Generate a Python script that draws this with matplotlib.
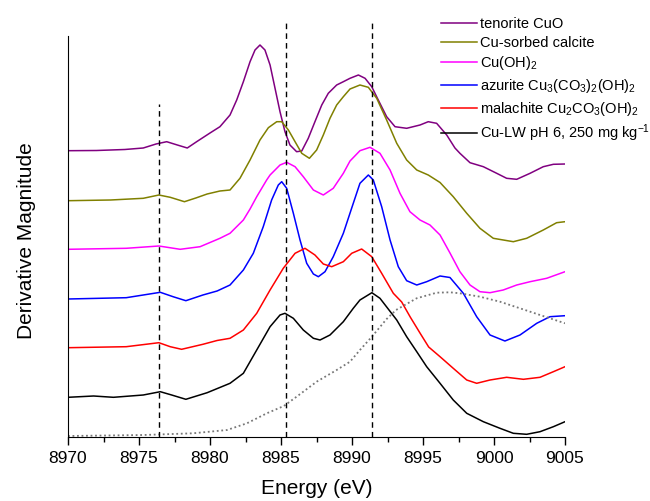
import numpy as np
import matplotlib
matplotlib.use("Agg")
import matplotlib.pyplot as plt
from matplotlib.ticker import MultipleLocator

plt.rcParams["font.family"] = ["Liberation Sans", "DejaVu Sans"]
plt.rcParams["mathtext.default"] = "regular"

# Derivative XANES spectra (arbitrary units, stacked offsets)
e_tenorite = [8970, 8972, 8974, 8975.3, 8976.2, 8976.95, 8977.7, 8978.4, 8979.06, 8980.0,
              8980.7, 8981.41, 8981.88, 8982.35, 8982.82, 8983.17, 8983.52, 8983.87, 8984.23, 8984.58,
              8984.93, 8985.28, 8985.63, 8986.1, 8986.46, 8986.92, 8987.39, 8987.87, 8988.33, 8988.92,
              8989.39, 8989.86, 8990.45, 8990.92, 8991.39, 8991.85, 8992.44, 8993.03, 8993.85, 8994.79,
              8995.37, 8995.96, 8996.67, 8997.25, 8997.6, 8998.31, 8999.25, 9000.19, 9000.89, 9001.6,
              9002.54, 9003.47, 9004.18, 9005]
y_tenorite = [286.3, 286.5, 287.5, 289, 293, 295.3, 292, 289, 295.3, 304,
              310.3, 322, 337, 355.3, 375.3, 387, 392, 387, 372, 348.7,
              325.3, 305.3, 292, 285.3, 286, 298.7, 315.3, 332, 343.7, 352,
              355.3, 358.7, 362, 358.7, 350.3, 337, 320.3, 310.3, 308.7, 312,
              315.3, 313.7, 302, 289, 283.7, 274.3, 270.3, 263.7, 258.7, 257.7,
              263.7, 270.3, 272.7, 273]

e_calcite = [8970, 8973, 8975.3, 8976.4, 8977.2, 8978.2, 8979.0, 8979.8, 8980.7, 8981.41,
             8982.11, 8982.82, 8983.52, 8984.11, 8984.7, 8985.05, 8985.52, 8985.99, 8986.46, 8987.0,
             8987.51, 8987.98, 8988.45, 8988.92, 8989.39, 8989.86, 8990.56, 8991.15, 8991.74, 8992.44,
             8993.15, 8993.85, 8994.56, 8995.37, 8996.2, 8997.13, 8998.08, 8999.01, 8999.95, 9001.36,
             9002.3, 9003.47, 9004.41, 9005]
y_calcite = [236.3, 237, 238.7, 242, 239.7, 235.3, 239, 243, 246, 247,
             258.7, 277, 297, 309.3, 315.3, 315.3, 307, 295.3, 283.7, 278.7,
             287, 302, 318.7, 332, 340.3, 348, 352, 349.7, 338.7, 317,
             293.7, 277, 267, 262, 254.5, 240.3, 223.7, 208.7, 198.7, 195.3,
             198.7, 207, 214.3, 215.3]

e_cuoh2 = [8970, 8974.1, 8976.4, 8977.9, 8979.3, 8980.7, 8981.41, 8982.35, 8982.82, 8983.29,
           8983.99, 8984.23, 8984.93, 8985.4, 8985.99, 8986.57, 8987.28, 8987.98, 8988.68, 8989.39,
           8989.86, 8990.56, 8991.27, 8991.97, 8992.68, 8993.38, 8994.08, 8994.79, 8995.49, 8996.2,
           8996.9, 8997.6, 8998.31, 8999.01, 8999.72, 9000.65, 9001.6, 9002.54, 9003.71, 9005]
y_cuoh2 = [187.7, 188.7, 191, 187.7, 190.3, 198.7, 203.7, 217, 228, 240.3,
           257, 262, 272, 274.7, 270.3, 260.3, 247, 242, 248.7, 263.7,
           276, 286.3, 289.7, 283.7, 267, 243.7, 225.3, 217, 212, 202,
           184, 165.3, 152, 145.3, 144.3, 147, 152, 155.3, 158.7, 165.3]

e_azurite = [8970, 8974.1, 8976.5, 8977.4, 8978.3, 8979.5, 8980.5, 8981.41, 8982.35, 8983.05,
             8983.75, 8984.34, 8984.81, 8985.05, 8985.4, 8985.87, 8986.34, 8986.81, 8987.28, 8987.63,
             8988.1, 8988.68, 8989.39, 8989.98, 8990.56, 8991.15, 8991.5, 8992.09, 8992.68, 8993.26,
             8993.85, 8994.56, 8995.26, 8996.2, 8996.9, 8997.84, 8998.78, 8999.72, 9000.77, 9001.83,
             9003.01, 9003.94, 9005]
y_azurite = [138, 139.3, 144.7, 140.3, 136.3, 142, 146, 152, 167, 183.7,
             210.3, 237, 252, 255.3, 248.7, 223.7, 197, 173.7, 163, 160.3,
             165.3, 180.3, 203.7, 229, 253.7, 262, 257, 230.3, 197, 170.3,
             156.3, 152, 155.3, 161, 159.5, 143.7, 120.3, 102, 96, 102,
             113.7, 120.3, 121.3]

e_malachite = [8970, 8974.1, 8976.4, 8977.2, 8978.0, 8979.5, 8980.5, 8981.41, 8982.35, 8983.29,
               8984.23, 8985.16, 8985.99, 8986.69, 8987.39, 8987.98, 8988.57, 8989.39, 8989.98, 8990.68,
               8991.39, 8992.09, 8992.91, 8993.5, 8994.1, 8994.8, 8995.4, 8996.2, 8997.13, 8998.08,
               8998.78, 8999.72, 9000.89, 9002.07, 9003.24, 9004.18, 9005]
y_malachite = [89.3, 90.3, 94.3, 90.3, 87.7, 92.7, 96.5, 98.7, 107, 123.7,
               147, 168.7, 183.7, 188.7, 182, 173, 170.3, 175.3, 183.7, 188,
               180.3, 163.7, 143.7, 135, 120, 103.7, 90, 80.3, 68.7, 57,
               53.7, 57, 59.7, 57.7, 59.7, 65.3, 70.3]

e_culw = [8970, 8971.8, 8973.2, 8975.3, 8976.5, 8977.3, 8978.3, 8979.8, 8981.41, 8982.35,
          8983.29, 8984.23, 8984.93, 8985.28, 8985.87, 8986.57, 8987.28, 8987.75, 8988.45, 8989.39,
          8990.09, 8990.56, 8991.4, 8991.97, 8993.15, 8993.85, 8994.56, 8995.26, 8996.2, 8997.13,
          8998.08, 8999.25, 9000.42, 9001.36, 9002.3, 9003.24, 9004.18, 9005]
y_culw = [39.7, 41, 39.7, 42, 45.3, 42, 37.7, 44.3, 53.7, 63.7,
          87, 110.3, 122, 123.7, 118.7, 107, 98.7, 97, 102, 115.3,
          128.7, 137, 144.3, 138.7, 117, 100.3, 85.3, 70.3, 53.7, 37,
          23.7, 15.3, 8.7, 3.7, 2.7, 5.3, 10.3, 15.3]

# normalized XANES of Cu-LW (dotted)
e_xanes = [8970, 8975.3, 8978.8, 8981.2, 8982.6, 8984.0, 8985.2, 8986.1, 8987.51, 8988.92,
           8989.86, 8990.56, 8991.4, 8992.44, 8993.1, 8994.55, 8995.96, 8996.9, 8997.6, 8999.01,
           9000.42, 9001.83, 9003.24, 9005]
y_xanes = [1, 2, 3.7, 7, 13.7, 23.7, 31, 40.3, 55.3, 67,
           75.3, 87, 100.3, 118, 127, 138.7, 144.3, 144.7, 143.7, 140.3,
           135.3, 128.7, 122, 113.7]

# reference edge positions (dashed lines) and their heights
edge_energies = [8976.4, 8985.35, 8991.4]
edge_tops = [333, 415, 415]

fig = plt.figure(figsize=(6.5, 5.01), dpi=100)
ax = fig.add_axes([68 / 650, 64 / 501, 497 / 650, 417 / 501])

ax.plot(e_tenorite, y_tenorite, color="#800080", lw=1.1, label="tenorite CuO")
ax.plot(e_calcite, y_calcite, color="#808000", lw=1.1, label="Cu-sorbed calcite")
ax.plot(e_cuoh2, y_cuoh2, color="#ff00ff", lw=1.1, label="Cu(OH)$_2$")
ax.plot(e_azurite, y_azurite, color="#0000ff", lw=1.1,
        label="azurite Cu$_3$(CO$_3$)$_2$(OH)$_2$")
ax.plot(e_malachite, y_malachite, color="#ff0000", lw=1.1,
        label="malachite Cu$_2$CO$_3$(OH)$_2$")
ax.plot(e_culw, y_culw, color="black", lw=1.1, label="Cu-LW pH 6, 250 mg kg$^{-1}$")
ax.plot(e_xanes, y_xanes, color="#777777", lw=1.3, linestyle=(0, (1, 1.5)))

for e, top in zip(edge_energies, edge_tops):
    ax.plot([e, e], [0, top], color="black", lw=1.0, linestyle=(0, (4, 3)), clip_on=False)

ax.set_xlim(8970, 9005)
ax.set_ylim(0, 417)
ax.xaxis.set_major_locator(MultipleLocator(5))
ax.xaxis.set_minor_locator(MultipleLocator(2.5))
ax.tick_params(axis="x", which="major", direction="out", length=6, width=1,
               labelsize=12.5, pad=4)
ax.tick_params(axis="x", which="minor", direction="out", length=3.5, width=1)
ax.set_yticks([])

ax.spines["top"].set_visible(False)
ax.spines["right"].set_visible(False)
ax.spines["left"].set_bounds(0, 401)

ax.set_xlabel("Energy (eV)", fontsize=15)
ax.set_ylabel("Derivative Magnitude", fontsize=15)
ax.xaxis.set_label_coords(0.5, -0.10)
ax.yaxis.set_label_coords(-0.064, 0.472)

ax.legend(loc="upper left", bbox_to_anchor=(441 / 650, 1 - 17 / 501),
          bbox_transform=fig.transFigure, frameon=False, fontsize=10.5,
          handlelength=2.45, handletextpad=0.25, borderpad=0, borderaxespad=0,
          labelspacing=0.32)

fig.savefig("out.png", dpi=100)
